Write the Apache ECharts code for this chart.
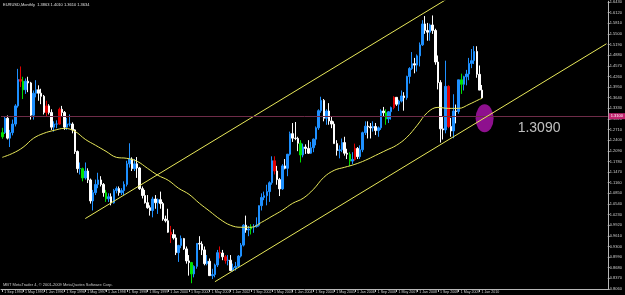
<!DOCTYPE html>
<html>
<head>
<meta charset="utf-8">
<title>EURUSD Monthly</title>
<script src="https://cdn.jsdelivr.net/npm/echarts@6/dist/echarts.min.js"></script>
<style>
  html, body { margin: 0; padding: 0; background: #000; }
  #chart { width: 625px; height: 295px; }
</style>
</head>
<body>
<div id="chart"></div>
<script>
// EURUSD monthly bars, Sep 1994 .. Feb 2010 (index 0 = Sep 1994)
const open = [
  1.2500,1.2620,1.3040,1.2460,1.2620,1.2870,1.3400,1.4170,1.4120,1.3870,
  1.4120,1.4070,1.3130,1.3770,1.3870,1.3770,1.3680,1.3210,1.3400,1.3210,
  1.2780,1.2870,1.2870,1.3300,1.3210,1.2780,1.2870,1.2870,1.2700,1.2070,
  1.1570,1.1570,1.1300,1.1500,1.1240,1.0630,1.0870,1.1110,1.1240,1.1110,
  1.0870,1.0690,1.0750,1.0570,1.0930,1.0990,1.0870,1.0930,1.1110,1.1710,
  1.1850,1.1570,1.1710,1.1590,1.0985,1.0786,1.0577,1.0431,1.0348,1.0684,
  1.0575,1.0666,1.0550,1.0100,1.0050,0.9717,0.9650,0.9550,0.9120,0.9330,
  0.9530,0.9230,0.8880,0.8830,0.8500,0.8720,0.9390,0.9370,0.9200,0.8800,
  0.8870,0.8450,0.8480,0.8760,0.9120,0.9110,0.9000,0.8890,0.8900,0.8600,
  0.8680,0.8720,0.9020,0.9340,0.9920,0.9780,0.9810,0.9870,0.9880,0.9920,
  1.0490,1.0730,1.0780,1.0900,1.1160,1.1800,1.1500,1.1250,1.0980,1.1650,
  1.1580,1.1990,1.2590,1.2460,1.2450,1.2310,1.1970,1.2200,1.2160,1.2020,
  1.2180,1.2430,1.2760,1.3260,1.3560,1.3040,1.3250,1.2960,1.2870,1.2300,
  1.2100,1.2120,1.2330,1.2020,1.1990,1.1790,1.1840,1.2160,1.1920,1.2120,
  1.2620,1.2810,1.2790,1.2760,1.2800,1.2680,1.2760,1.3250,1.3200,1.3020,
  1.3230,1.3350,1.3650,1.3450,1.3540,1.3690,1.3640,1.4260,1.4490,1.4630,
  1.4590,1.4860,1.5180,1.5790,1.5600,1.5550,1.5760,1.5600,1.4680,1.4080,
  1.2730,1.2700,1.3970,1.2800,1.2670,1.3250,1.3240,1.4160,1.4030,1.4250,
  1.4330,1.4640,1.4720,1.4990,1.4320,1.3860
];
const high = [
  1.2760,1.3100,1.3120,1.2700,1.3000,1.3450,1.4480,1.4550,1.4250,1.4200,
  1.4250,1.4100,1.3850,1.4150,1.4000,1.3900,1.3720,1.3550,1.3450,1.3300,
  1.2950,1.2980,1.3350,1.3400,1.3250,1.3050,1.3150,1.2920,1.2720,1.2100,
  1.1750,1.1600,1.1750,1.1580,1.1280,1.0950,1.1250,1.1450,1.1350,1.1150,
  1.0950,1.0850,1.0850,1.0980,1.1050,1.1050,1.1000,1.1200,1.1800,1.2310,
  1.1900,1.1850,1.1908,1.1620,1.1050,1.0950,1.0800,1.0500,1.0750,1.0800,
  1.0700,1.0900,1.0600,1.0200,1.0400,0.9900,0.9800,0.9650,0.9350,0.9620,
  0.9550,0.9300,0.9050,0.8850,0.8750,0.9400,0.9600,0.9450,0.9300,0.9050,
  0.8950,0.8650,0.8800,0.9200,0.9300,0.9200,0.9050,0.9050,0.9050,0.8800,
  0.8850,0.9050,0.9400,0.9950,1.0200,0.9900,0.9950,0.9950,1.0150,1.0500,
  1.0850,1.0900,1.1100,1.1200,1.1930,1.1930,1.1650,1.1300,1.1700,1.1850,
  1.2000,1.2650,1.2900,1.2930,1.2500,1.2400,1.2300,1.2280,1.2400,1.2350,
  1.2450,1.2800,1.3300,1.3667,1.3600,1.3300,1.3480,1.3100,1.2950,1.2400,
  1.2250,1.2450,1.2500,1.2150,1.2050,1.2050,1.2300,1.2200,1.2250,1.2650,
  1.2950,1.2950,1.2900,1.2950,1.2900,1.2800,1.3300,1.3370,1.3300,1.3250,
  1.3380,1.3680,1.3650,1.3580,1.3850,1.3800,1.4280,1.4530,1.4970,1.4800,
  1.4900,1.5250,1.5900,1.6020,1.5820,1.5800,1.6038,1.5650,1.4870,1.4150,
  1.3080,1.4719,1.4000,1.3050,1.3740,1.3440,1.4160,1.4340,1.4280,1.4450,
  1.4800,1.5060,1.5144,1.5140,1.4579,1.4010
];
const low = [
  1.2440,1.2580,1.2420,1.2200,1.2540,1.2800,1.3350,1.3950,1.3600,1.3750,
  1.3800,1.3000,1.3000,1.3650,1.3550,1.3450,1.3150,1.3100,1.3150,1.2700,
  1.2650,1.2750,1.2850,1.3100,1.2700,1.2700,1.2800,1.2600,1.2000,1.1450,
  1.1400,1.1200,1.1250,1.1150,1.0550,1.0350,1.0800,1.1000,1.1050,1.0750,
  1.0600,1.0600,1.0500,1.0550,1.0850,1.0780,1.0800,1.0800,1.1050,1.1600,
  1.1500,1.1500,1.1300,1.0950,1.0700,1.0550,1.0400,1.0200,1.0150,1.0400,
  1.0250,1.0400,1.0050,1.0000,0.9700,0.9400,0.9500,0.9050,0.8850,0.9250,
  0.9200,0.8800,0.8450,0.8228,0.8400,0.8650,0.9200,0.9050,0.8750,0.8750,
  0.8450,0.8350,0.8400,0.8700,0.8950,0.8900,0.8800,0.8750,0.8580,0.8570,
  0.8600,0.8700,0.8980,0.9300,0.9700,0.9600,0.9650,0.9700,0.9850,0.9880,
  1.0350,1.0650,1.0500,1.0600,1.1100,1.1400,1.1100,1.0770,1.0950,1.1550,
  1.1350,1.1950,1.2350,1.2400,1.2080,1.1750,1.1900,1.2000,1.2000,1.2000,
  1.2050,1.2250,1.2700,1.3200,1.2950,1.2850,1.2850,1.2750,1.2300,1.1950,
  1.1870,1.2050,1.1950,1.1850,1.1640,1.1700,1.1800,1.1850,1.1850,1.2050,
  1.2550,1.2450,1.2450,1.2650,1.2550,1.2500,1.2700,1.3100,1.2850,1.2900,
  1.3000,1.3300,1.3400,1.3250,1.3500,1.3260,1.3580,1.4050,1.4450,1.4350,
  1.4400,1.4550,1.5150,1.5500,1.5300,1.5300,1.5500,1.4600,1.3880,1.2330,
  1.2420,1.2600,1.2750,1.2500,1.2457,1.2890,1.3170,1.3750,1.3850,1.4000,
  1.4150,1.4500,1.4620,1.4220,1.3860,1.3610
];
const close = [
  1.2620,1.3040,1.2460,1.2620,1.2870,1.3400,1.4170,1.4120,1.3870,1.4120,
  1.4070,1.3130,1.3770,1.3870,1.3770,1.3680,1.3210,1.3400,1.3210,1.2780,
  1.2870,1.2870,1.3300,1.3210,1.2780,1.2870,1.2870,1.2700,1.2070,1.1570,
  1.1570,1.1300,1.1500,1.1240,1.0630,1.0870,1.1110,1.1240,1.1110,1.0870,
  1.0690,1.0750,1.0570,1.0930,1.0990,1.0870,1.0930,1.1110,1.1710,1.1850,
  1.1570,1.1710,1.1590,1.0985,1.0786,1.0577,1.0431,1.0348,1.0684,1.0575,
  1.0666,1.0550,1.0100,1.0050,0.9717,0.9650,0.9550,0.9120,0.9330,0.9530,
  0.9230,0.8880,0.8830,0.8500,0.8720,0.9390,0.9370,0.9200,0.8800,0.8870,
  0.8450,0.8480,0.8760,0.9120,0.9110,0.9000,0.8890,0.8900,0.8600,0.8680,
  0.8720,0.9020,0.9340,0.9920,0.9780,0.9810,0.9870,0.9880,0.9920,1.0490,
  1.0730,1.0780,1.0900,1.1160,1.1800,1.1500,1.1250,1.0980,1.1650,1.1580,
  1.1990,1.2590,1.2460,1.2450,1.2310,1.1970,1.2200,1.2160,1.2020,1.2180,
  1.2430,1.2760,1.3260,1.3560,1.3040,1.3250,1.2960,1.2870,1.2300,1.2100,
  1.2120,1.2330,1.2020,1.1990,1.1790,1.1840,1.2160,1.1920,1.2120,1.2620,
  1.2810,1.2790,1.2760,1.2800,1.2680,1.2760,1.3250,1.3200,1.3020,1.3230,
  1.3350,1.3650,1.3450,1.3540,1.3690,1.3640,1.4260,1.4490,1.4630,1.4590,
  1.4860,1.5180,1.5790,1.5600,1.5550,1.5760,1.5600,1.4680,1.4080,1.2730,
  1.2700,1.3970,1.2800,1.2670,1.3250,1.3240,1.4160,1.4030,1.4250,1.4330,
  1.4640,1.4720,1.4990,1.4320,1.3860,1.3634
];
// bars the template paints green / red
const greenBars = [0, 8, 31, 40, 73, 96, 115, 134, 148, 177];
const redBars = [7, 17, 22, 65, 84, 86, 105, 136, 151, 172];

// moving average: bar index -> value
const maIdx = [0,4,8,12,16,20,24,28,32,36,40,44,48,52,56,60,64,68,72,76,80,84,88,92,
  96,100,104,108,112,116,120,124,128,132,136,140,144,148,152,156,160,164,168,172,176,180,184,185];
const maVal = [1.1900,1.2017,1.2192,1.2454,1.2600,1.2687,1.2745,1.2658,1.2425,1.2250,1.2075,1.1900,
  1.1871,1.1784,1.1580,1.1376,1.1230,1.0997,1.0822,1.0560,1.0327,1.0093,0.9919,0.9860,
  0.9860,1.0006,1.0181,1.0356,1.0560,1.0705,1.0968,1.1317,1.1521,1.1609,1.1696,1.1813,
  1.1958,1.2104,1.2250,1.2483,1.2833,1.3211,1.3357,1.3328,1.3328,1.3445,1.3590,1.3619];

// trend channel end points [bar index, price]
const upperChannel = [[32, 1.0114], [185, 1.7137]];
const lowerChannel = [[82, 0.8272], [233, 1.5212]];

const levelPrice = 1.3100;
const ellipsePoint = [186, 1.3037];
const noteText = '1.3090';
const notePoint = [207, 1.2745];

// date labels, one every 8 bars
const dateLabels = ['1 Sep 1994','1 May 1995','1 Jan 1996','1 Sep 1996','1 May 1997','1 Jan 1998',
  '1 Sep 1998','1 May 1999','1 Jan 2000','1 Sep 2000','1 May 2001','1 Jan 2002','1 Sep 2002',
  '1 May 2003','1 Jan 2004','1 Sep 2004','1 May 2005','1 Jan 2006','1 Sep 2006','1 May 2007',
  '1 Jan 2008','1 Sep 2008','1 May 2009','1 Jan 2010'];
const labelStep = 8;
const totalBars = 234; // includes empty shift space on the right

const header = 'EURUSD,Monthly  1.3863 1.4010 1.3610 1.3634';
const footer = 'MBT MetaTrader 4, \u00a9 2001-2009 MetaQuotes Software Corp.';

const BULL = '#1e90ff', BEAR = '#ffffff', GREEN = '#00e000', RED = '#e00000';
const YEL = '#e8e85a', PINK = '#6e2c48', AXIS = '#b8b8b8';

const chart = echarts.init(document.getElementById('chart'));

const cats = [];
for (let i = 0; i < totalBars; i++) cats.push(String(i));

const candles = open.map((o, i) => {
  const item = { value: [o, close[i], low[i], high[i]] };
  let c = null;
  if (greenBars.includes(i)) c = GREEN;
  if (redBars.includes(i)) c = RED;
  if (c) item.itemStyle = { color: c, color0: c, borderColor: c, borderColor0: c };
  return item;
});

const lastIdx = close.length - 1;

const option = {
  backgroundColor: '#000000',
  animation: false,
  grid: { left: 1, right: 12, top: 1, bottom: 6 },
  xAxis: {
    type: 'category',
    data: cats,
    boundaryGap: true,
    axisLine: { show: true, lineStyle: { color: AXIS, width: 1 } },
    axisTick: {
      show: true,
      length: 3,
      alignWithLabel: true,
      interval: (idx) => idx % labelStep === 0 && idx <= lastIdx,
      lineStyle: { color: AXIS }
    },
    axisLabel: {
      interval: (idx) => idx % labelStep === 0 && idx <= lastIdx,
      formatter: (v, idx) => dateLabels[idx / labelStep] || '',
      color: '#d0d0d0',
      fontSize: 3.6,
      fontFamily: 'Liberation Sans',
      align: 'left',
      margin: 1,
      padding: [0, 0, 0, 2]
    },
    splitLine: { show: false }
  },
  yAxis: {
    type: 'value',
    position: 'right',
    min: 0.806,
    max: 1.6452,
    interval: 0.031,
    axisLine: { show: true, lineStyle: { color: AXIS, width: 1 } },
    axisTick: { show: true, length: 2, lineStyle: { color: AXIS } },
    axisLabel: {
      color: '#d0d0d0',
      fontSize: 4,
      fontFamily: 'Liberation Sans',
      margin: 2,
      showMaxLabel: false,
      formatter: (v) => v.toFixed(4)
    },
    splitLine: { show: false }
  },
  graphic: [
    { type: 'text', left: 3, top: 3, style: { text: header, fill: '#e0e0e0', fontSize: 4, fontFamily: 'Liberation Sans' } },
    { type: 'text', left: 3, top: 283, style: { text: footer, fill: '#c8c8c8', fontSize: 4, fontFamily: 'Liberation Sans' } }
  ],
  series: [
    {
      name: 'EURUSD',
      type: 'candlestick',
      data: candles,
      barWidth: 2,
      itemStyle: { color: BULL, color0: BEAR, borderColor: BULL, borderColor0: BEAR, borderWidth: 1 },
      markLine: {
        symbol: 'none',
        silent: true,
        data: [
          {
            yAxis: levelPrice,
            lineStyle: { color: PINK, width: 1, type: 'solid' },
            label: {
              position: 'end', distance: 1, fontSize: 4, color: '#ffffff',
              backgroundColor: '#c0246e', padding: [1, 2],
              formatter: () => levelPrice.toFixed(4)
            }
          },
          {
            yAxis: close[lastIdx],
            lineStyle: { opacity: 0 },
            label: {
              position: 'end', distance: 1, fontSize: 4, color: '#000000',
              backgroundColor: '#ffffff', padding: [1, 2],
              formatter: () => close[lastIdx].toFixed(4)
            }
          }
        ]
      },
      z: 3
    },
    {
      name: 'MA',
      type: 'line',
      data: maIdx.map((x, i) => [x, maVal[i]]),
      smooth: 0.4,
      symbol: 'none',
      lineStyle: { color: YEL, width: 1 },
      z: 4
    },
    {
      name: 'upper',
      type: 'line',
      data: upperChannel,
      symbol: 'none',
      clip: true,
      lineStyle: { color: YEL, width: 1 },
      z: 4
    },
    {
      name: 'lower',
      type: 'line',
      data: lowerChannel,
      symbol: 'none',
      clip: true,
      lineStyle: { color: YEL, width: 1 },
      z: 5
    },
    {
      name: 'zone',
      type: 'scatter',
      data: [ellipsePoint],
      symbol: 'circle',
      symbolSize: [18, 28],
      itemStyle: { color: '#8e108e', opacity: 1 },
      z: 4
    },
    {
      name: 'note',
      type: 'scatter',
      data: [notePoint],
      symbolSize: 0,
      label: {
        show: true,
        position: 'inside',
        formatter: () => noteText,
        color: '#eeeeee',
        fontSize: 14,
        fontFamily: 'Liberation Sans'
      },
      z: 6
    }
  ]
};

chart.setOption(option);
</script>
</body>
</html>
